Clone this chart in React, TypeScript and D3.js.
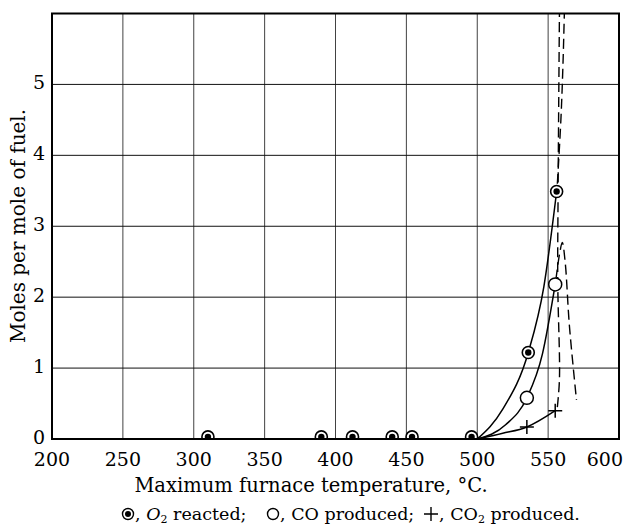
import * as d3 from "d3";

// axis ticks
const xTicks = [200, 250, 300, 350, 400, 450, 500, 550, 600];
const yTicks = [0, 1, 2, 3, 4, 5];

// measured points
const o2Temp = [310, 390, 412, 440, 454, 496, 536, 556];
const o2Moles = [0.03, 0.03, 0.03, 0.03, 0.03, 0.03, 1.22, 3.49];
const coTemp = [535, 555];
const coMoles = [0.58, 2.18];
const co2Temp = [535, 555];
const co2Moles = [0.17, 0.4];

// drawn curves (solid)
const o2LineT = [500, 518, 536, 547, 556];
const o2LineM = [0, 0.42, 1.22, 2.15, 3.49];
const coLineT = [500, 520, 535, 546, 555];
const coLineM = [0, 0.2, 0.58, 1.2, 2.18];
const co2LineT = [500, 518, 535, 555];
const co2LineM = [0, 0.08, 0.17, 0.4];

// dashed extrapolations
const o2DashT = [556.5, 559, 560.5, 561.5];
const o2DashM = [3.6, 4.5, 5.3, 6.05];
const coDashT = [555.5, 558, 560, 562, 565, 570];
const coDashM = [2.25, 2.6, 2.77, 2.5, 1.6, 0.55];
const co2DashT = [556.5, 558, 556.8, 557, 558];
const co2DashM = [0.45, 0.85, 2.2, 3.4, 6.05];

const W = 626;
const H = 528;
const serif = "'DejaVu Serif', 'Liberation Serif', serif";

function pts(t: number[], m: number[]) {
  return t.map((d, i) => [d, m[i]] as [number, number]);
}

export default function App() {
  const x = d3.scaleLinear().domain([200, 600]).range([52, 619]);
  const y = d3.scaleLinear().domain([0, 6]).range([439, 13.5]);

  const solid = d3
    .line<[number, number]>()
    .x((d) => x(d[0]))
    .y((d) => y(d[1]))
    .curve(d3.curveMonotoneX);
  const dashed = d3
    .line<[number, number]>()
    .x((d) => x(d[0]))
    .y((d) => y(d[1]))
    .curve(d3.curveCatmullRom);

  const [x0, x1] = x.range();
  const [y0, y1] = y.range();
  const last = xTicks[xTicks.length - 1];

  return (
    <svg
      width={W}
      height={H}
      style={{ position: "absolute", left: 0, top: 0, background: "#fff" }}
      fontFamily={serif}
    >
      <defs>
        <clipPath id="plot">
          <rect x={x0} y={y1} width={x1 - x0} height={y0 - y1} />
        </clipPath>
      </defs>

      {/* grid */}
      <g stroke="#111" strokeWidth={1}>
        {yTicks.slice(1).map((t) => (
          <line key={"h" + t} x1={x0} x2={x1} y1={y(t)} y2={y(t)} />
        ))}
        {xTicks.slice(1, -1).map((t) => (
          <line key={"v" + t} x1={x(t)} x2={x(t)} y1={y0} y2={y1} strokeWidth={0.8} />
        ))}
      </g>

      {/* curves */}
      <g fill="none" stroke="#000" strokeWidth={1.5} clipPath="url(#plot)">
        <path d={solid(pts(o2LineT, o2LineM)) || ""} />
        <path d={solid(pts(coLineT, coLineM)) || ""} />
        <path d={solid(pts(co2LineT, co2LineM)) || ""} />
        <g strokeDasharray="10 5" strokeWidth={1.4}>
          <path d={dashed(pts(o2DashT, o2DashM)) || ""} />
          <path d={dashed(pts(coDashT, coDashM)) || ""} />
          <path d={dashed(pts(co2DashT, co2DashM)) || ""} />
        </g>
      </g>

      {/* markers */}
      <g clipPath="url(#plot)">
        {o2Temp.map((t, i) => (
          <g key={"o2" + i} transform={`translate(${x(t)},${y(o2Moles[i])})`}>
            <circle r={6} fill="#fff" stroke="#000" strokeWidth={1.6} />
            <circle r={3.2} fill="#000" />
          </g>
        ))}
        {coTemp.map((t, i) => (
          <circle key={"co" + i} cx={x(t)} cy={y(coMoles[i])} r={6.5} fill="#fff" stroke="#000" strokeWidth={1.5} />
        ))}
        {co2Temp.map((t, i) => (
          <path
            key={"co2" + i}
            transform={`translate(${x(t)},${y(co2Moles[i])})`}
            d="M-7,0H7M0,-7V7"
            stroke="#000"
            strokeWidth={1.5}
          />
        ))}
      </g>

      {/* frame */}
      <rect x={x0} y={y1} width={x1 - x0} height={y0 - y1} fill="none" stroke="#000" strokeWidth={2} />

      {/* tick labels */}
      <g fontSize={19} fill="#000">
        {xTicks.map((t) => (
          <text
            key={"xt" + t}
            x={t === last ? W - 3 : x(t)}
            y={466}
            textAnchor={t === last ? "end" : "middle"}
          >
            {t}
          </text>
        ))}
        {yTicks.map((t) => (
          <text key={"yt" + t} x={45} y={y(t) - 2} dy="0.36em" textAnchor="end">
            {t}
          </text>
        ))}
      </g>

      {/* axis titles */}
      <text x={311} y={492} fontSize={19.5} textAnchor="middle">
        Maximum furnace temperature, °C.
      </text>
      <text transform={`translate(25,226) rotate(-90)`} fontSize={20} textAnchor="middle">
        Moles per mole of fuel.
      </text>

      {/* legend */}
      <g fontSize={17.5}>
        <g transform="translate(128,514)">
          <circle r={5.5} fill="#fff" stroke="#000" strokeWidth={1.4} />
          <circle r={3} fill="#000" />
        </g>
        <text x={135} y={520}>
          , <tspan fontStyle="italic">O</tspan>
          <tspan fontSize={11} dy={3}>2</tspan>
          <tspan dy={-3}> reacted;</tspan>
        </text>
        <circle cx={273} cy={514} r={5.5} fill="#fff" stroke="#000" strokeWidth={1.4} />
        <text x={280} y={520}>, CO produced;</text>
        <path transform="translate(431,514)" d="M-7,0H7M0,-7V7" stroke="#000" strokeWidth={1.4} />
        <text x={439} y={520}>
          , CO<tspan fontSize={11} dy={3}>2</tspan>
          <tspan dy={-3}> produced.</tspan>
        </text>
      </g>
    </svg>
  );
}
